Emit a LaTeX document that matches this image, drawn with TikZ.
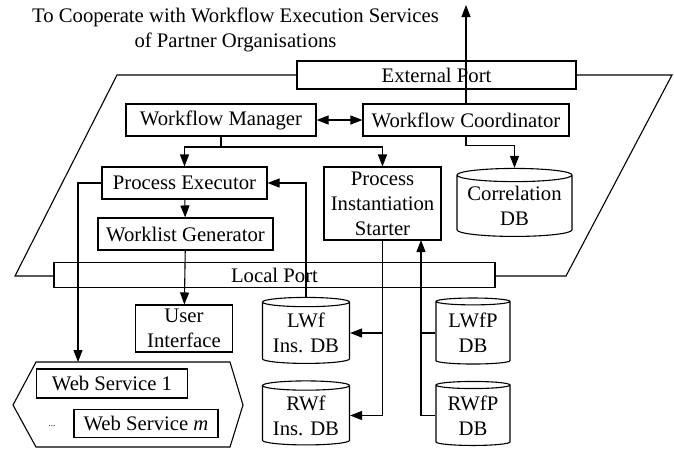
\documentclass[tikz,border=0pt]{standalone}
\usepackage{fontspec}
\setmainfont{Liberation Serif}
\usetikzlibrary{arrows.meta, shapes.geometric}

\begin{document}
\begin{tikzpicture}[x=1pt, y=-1pt, line width=1.1pt,
    font=\fontsize{20.7}{25}\selectfont]
    \useasboundingbox (0,0) rectangle (674,448);

    % engine frame and web service group
    \draw (117,75) -- (672,75) -- (566,276) -- (15,276) -- cycle;
    \draw (36,362) -- (230,362) -- (243,405) -- (230,447) -- (36,447) -- (13,405) -- cycle;

    \node[align=center] (goal) at (235.5,29.5) {To Cooperate with Workflow Execution Services\\of Partner Organisations};
    \node[font=\fontsize{9}{10}\selectfont] (dots) at (52,426) {...};
    \coordinate (goalout) at (466,5);
    \coordinate (wstop) at (78,362);

    \begin{scope}[every node/.style={rectangle,draw,fill=white,inner sep=0pt,align=center}]
        \node[minimum width=279, minimum height=28] (ext) at (436.5,75) {External Port};
        \node[minimum width=190, minimum height=32] (wm) at (221,120) {Workflow Manager};
        \node[minimum width=206, minimum height=32] (wc) at (466,120) {Workflow Coordinator};
        \node[minimum width=165, minimum height=32] (pe) at (184.5,183) {Process Executor};
        \node[minimum width=117, minimum height=73] (pis) at (382.5,203.5) {Process\\Instantiation\\Starter};
        \node[minimum width=175, minimum height=32] (wg) at (185.5,234) {Worklist Generator};
        \node[minimum width=441, minimum height=25] (lp) at (274.5,275) {Local Port};
        \node[minimum width=97, minimum height=47] (ui) at (184,328.5) {User\\Interface};
        \node[minimum width=151, minimum height=29] (ws1) at (112,383.5) {Web Service 1};
        \node[minimum width=144, minimum height=28] (wsm) at (146,423.5) {Web Service \textit{m}};
    \end{scope}

    \begin{scope}[every node/.style={cylinder,shape border rotate=90,aspect=0.14,draw,fill=white,inner sep=0pt,align=center}]
        \node[minimum width=115, minimum height=68] (cdb) at (514.5,206) {Correlation\\DB};
        \node[minimum width=87, minimum height=66] (lwf) at (306,333) {LWf\\Ins. DB};
        \node[minimum width=87, minimum height=64] (rwf) at (306,415.5) {RWf\\Ins. DB};
        \node[minimum width=74, minimum height=66] (lwfp) at (473,333) {LWfP\\DB};
        \node[minimum width=74, minimum height=64] (rwfp) at (473,415.5) {RWfP\\DB};
    \end{scope}

    \begin{scope}[>={Triangle[length=12pt,width=9pt]}]
        \coordinate (wmbus) at (221,147);
        \coordinate (pisin) at (421,240);
        \draw[->] (wc) -- (goalout);
        \draw[<->] (wm) -- (wc);
        \draw (wm) -- (wmbus);
        \draw[->] (wmbus) -| (pe.north);
        \draw[->] (wmbus) -| (pis.north);
        \draw[->] (wc.south) -- ++(0,9) -| (cdb.north);
        \path[->] (pe) edge (wg)
                  (wg) edge (ui);
        \draw[->] (pe.west) -| (wstop);
        \draw[->] (lwf.north) |- (pe.east);
        \draw[->] (pis.south) |- (rwf.east);
        \draw[->] (pis.south |- lwf.east) -- (lwf.east);
        \draw[->] (rwfp.west) -| (pisin);
        \draw (lwfp.west) -- (lwfp.west -| pisin);
    \end{scope}
\end{tikzpicture}
\end{document}
